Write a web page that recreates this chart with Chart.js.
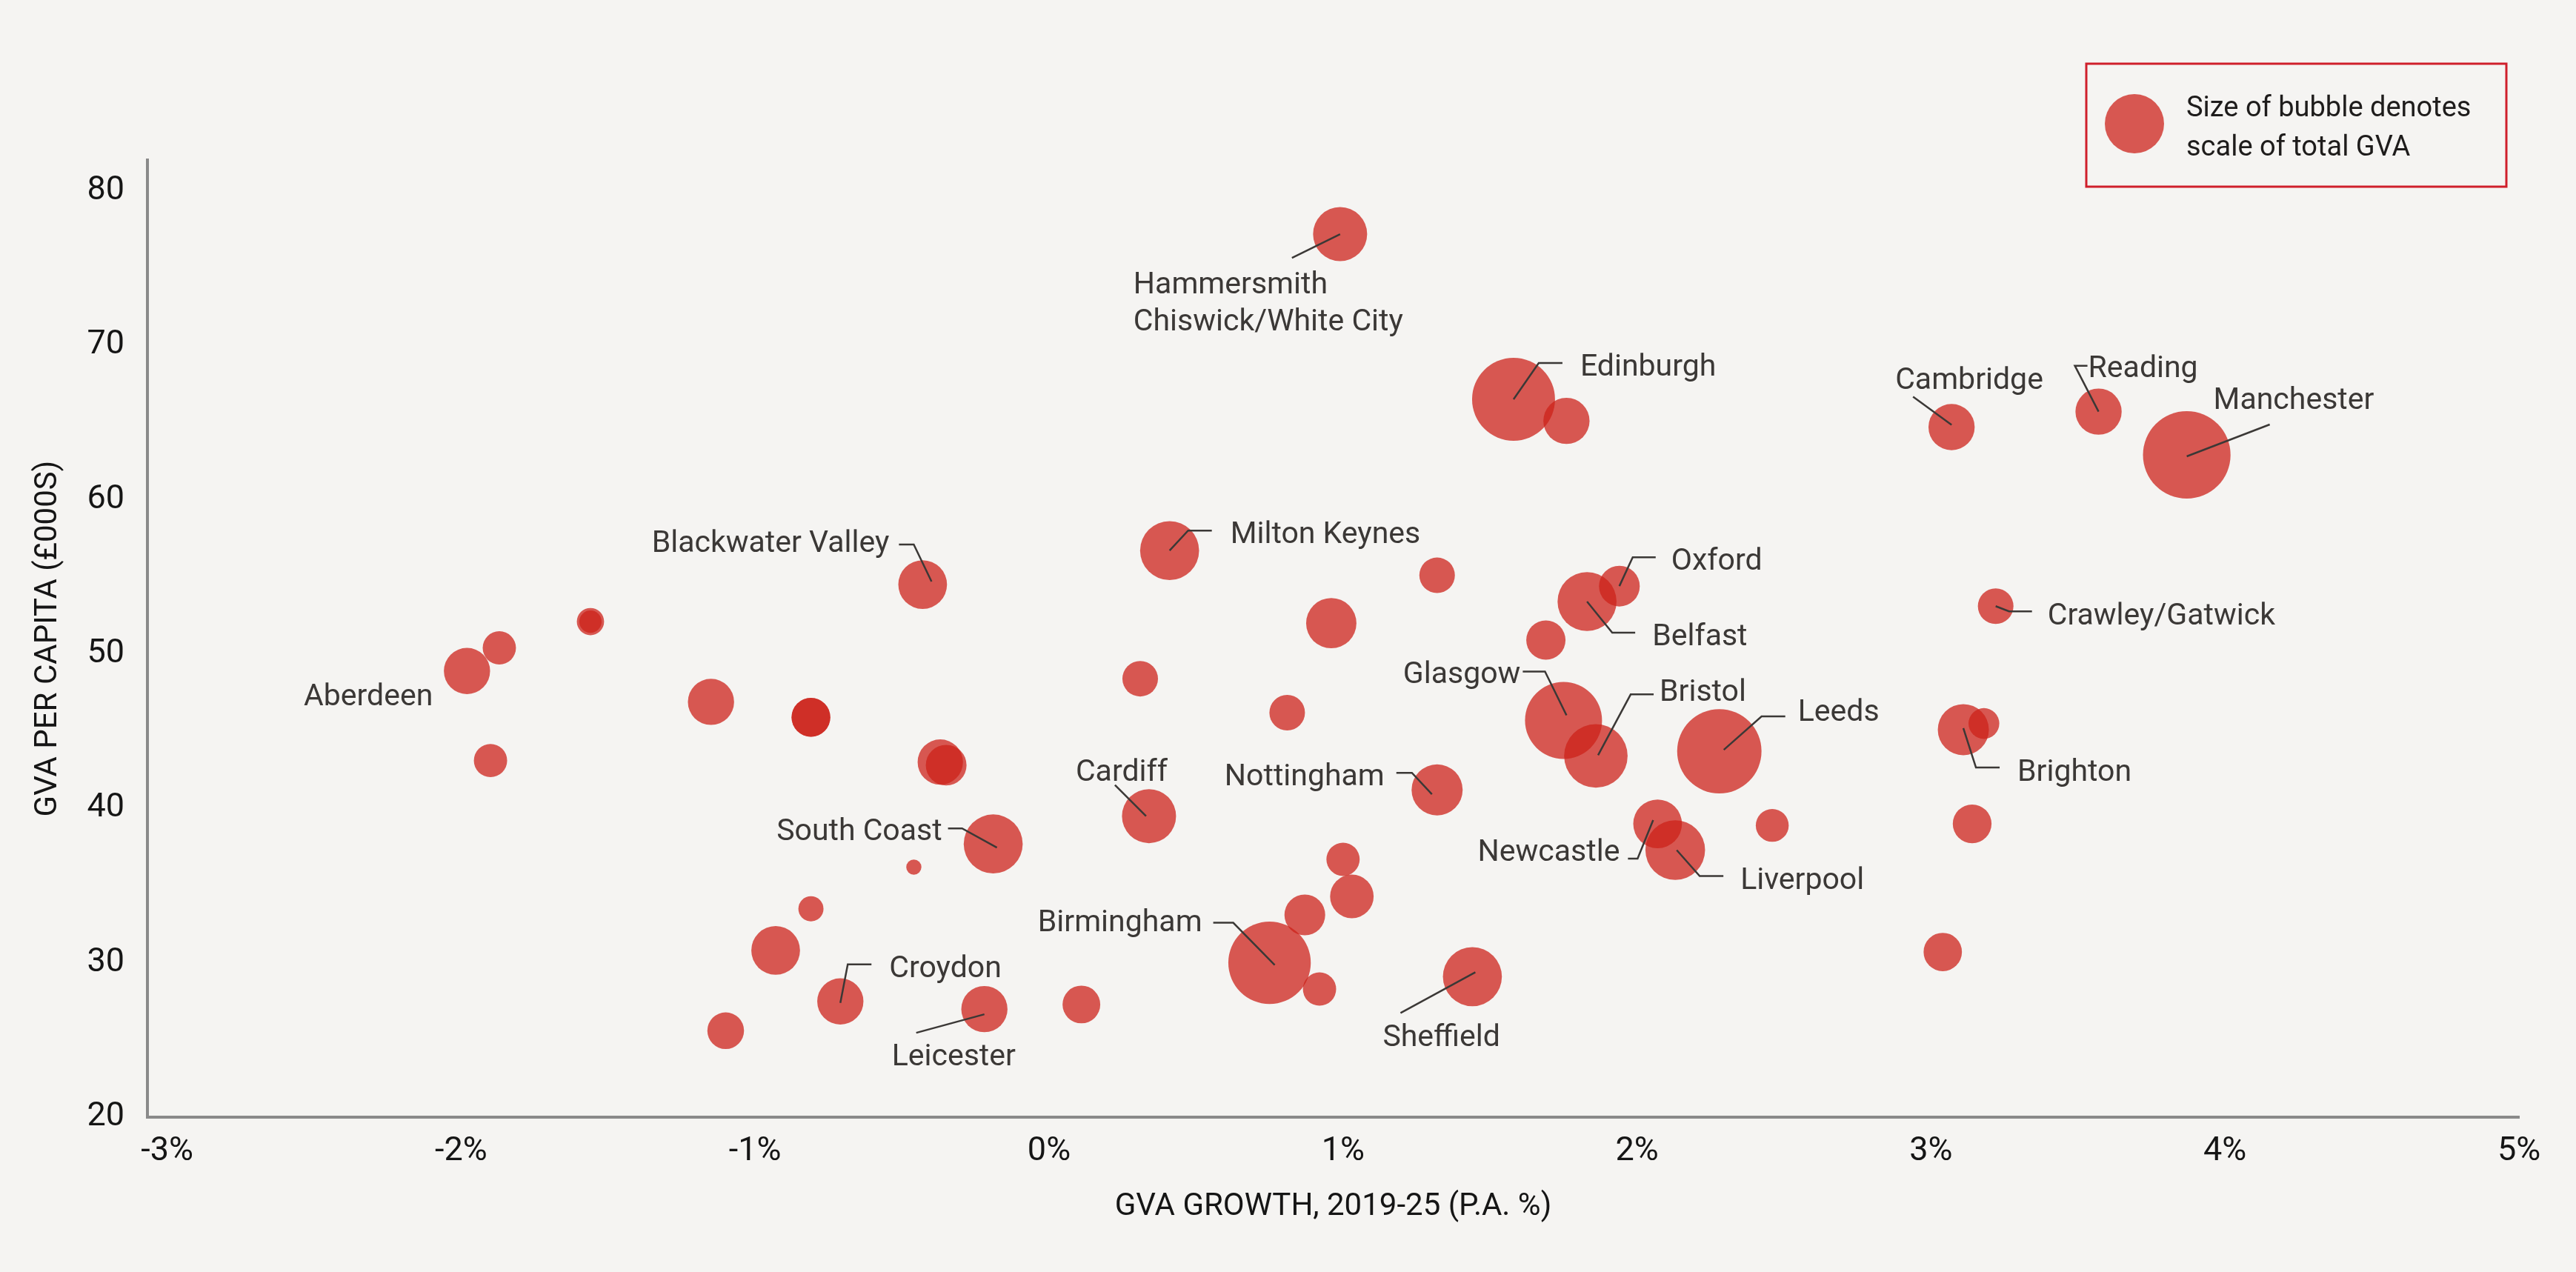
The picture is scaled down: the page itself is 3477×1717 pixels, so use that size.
<!DOCTYPE html>
<html>
<head>
<meta charset="utf-8">
<script src="https://cdn.jsdelivr.net/npm/chart.js@4.4.0/dist/chart.umd.min.js"></script>
<style>
  html, body { margin: 0; padding: 0; background: #f5f4f2; }
  #wrap { width: 3477px; height: 1717px; }
  canvas { display: block; }
</style>
</head>
<body>
<div id="wrap"><canvas id="myChart" width="3477" height="1717"></canvas></div>
<script>
// Районы (пустая строка - без подписи)
const places = ['Hammersmith', 'Edinburgh', '', 'Cambridge', 'Reading', 'Manchester', 'Milton Keynes',
    'Blackwater Valley', '', 'Oxford', 'Belfast', 'Crawley/Gatwick', '', '', '', '', '', 'Aberdeen', '', '',
    '', '', '', 'Glasgow', 'Bristol', 'Leeds', 'Brighton', '', '', '', '', 'Cardiff', 'Nottingham',
    'Newcastle', 'Liverpool', '', '', 'South Coast', '', '', '', '', '', 'Birmingham', '', '', 'Sheffield',
    'Croydon', 'Leicester', '', '', ''];

// Рост GVA, 2019-25 (% в год)
const gvaGrowth = [0.99, 1.58, 1.76, 3.07, 3.57, 3.87, 0.41,
    -0.43, 1.32, 1.94, 1.83, 3.22, 0.96, 1.69, -1.56, -1.56, -1.87, -1.98, 0.31, -1.15,
    -0.81, -0.81, 0.81, 1.75, 1.86, 2.28, 3.11, 3.18, -1.90, -0.37, -0.35, 0.34, 1.32,
    2.07, 2.13, 2.46, 3.14, -0.19, -0.46, 1.00, 1.03, -0.81, 0.87, 0.75, -0.93, 3.04, 1.44,
    -0.71, -0.22, 0.11, 0.92, -1.10];

// GVA на душу населения (тыс. фунтов)
const gvaPerCapita = [77.2, 66.5, 65.1, 64.7, 65.7, 62.9, 56.7,
    54.5, 55.1, 54.4, 53.4, 53.1, 52.0, 50.9, 52.1, 52.1, 50.4, 48.9, 48.4, 46.9,
    45.9, 45.9, 46.2, 45.7, 43.4, 43.7, 45.1, 45.5, 43.1, 43.0, 42.8, 39.5, 41.2,
    39.0, 37.3, 38.9, 39.0, 37.7, 36.2, 36.7, 34.3, 33.5, 33.1, 30.0, 30.8, 30.7, 29.1,
    27.5, 27.0, 27.3, 28.3, 25.6];

// Общий GVA (млрд фунтов) - размер пузыря
const totalGva = [37, 87, 27, 27, 27, 97, 44,
    30, 16, 21, 44, 16, 32, 19.5, 9.4, 6.3, 14, 27, 16, 27,
    19, 19, 16, 75, 51, 90, 33, 12, 14, 26, 21, 37, 33,
    30, 45, 13.7, 19, 44, 2.9, 14, 24, 8, 21, 86, 30, 18.6, 44,
    27, 27, 18, 14, 17];

const xTicks = [-3, -2, -1, 0, 1, 2, 3, 4, 5];
const xTickLabels = ['-3%', '-2%', '-1%', '0%', '1%', '2%', '3%', '4%', '5%'];
const yTicks = [20, 30, 40, 50, 60, 70, 80];
const yTickLabels = ['20', '30', '40', '50', '60', '70', '80'];

// Подписи: линия-выноска и текст, смещения в пикселях от центра пузыря
const callouts = [
    { name: 'Hammersmith', text: ['Hammersmith', 'Chiswick/White City'], line: [[0, 0], [-65, 32]], at: [-279, 80] },
    { name: 'Edinburgh', line: [[0, 0], [34, -49], [66, -49]], at: [90, -32] },
    { name: 'Milton Keynes', line: [[0, 0], [25, -27], [57, -27]], at: [82, -10] },
    { name: 'Oxford', line: [[0, 0], [18, -39], [49, -39]], at: [70, -22] },
    { name: 'Belfast', line: [[0, 0], [34, 42], [65, 42]], at: [88, 59] },
    { name: 'Glasgow', line: [[4, -7], [-25, -66], [-55, -66]], at: [-58, -50], align: 'right' },
    { name: 'Bristol', line: [[3, -1], [47, -83], [78, -83]], at: [86, -74] },
    { name: 'Leeds', line: [[6, -2], [57, -47], [89, -47]], at: [106, -41] },
    { name: 'Nottingham', line: [[-7, 6], [-34, -23], [-55, -23]], at: [-71, -6], align: 'right' },
    { name: 'Cardiff', line: [[-4, 0], [-46, -42]], at: [-99, -48] },
    { name: 'South Coast', line: [[5, 5], [-42, -21], [-61, -21]], at: [-69, -5], align: 'right' },
    { name: 'Newcastle', line: [[-6, -5], [-27, 47], [-40, 47]], at: [-51, 50], align: 'right' },
    { name: 'Liverpool', line: [[2, 0], [33, 35], [65, 35]], at: [88, 53] },
    { name: 'Brighton', line: [[0, -2], [17, 51], [49, 51]], at: [73, 69] },
    { name: 'Birmingham', line: [[7, 3], [-49, -54], [-76, -54]], at: [-91, -43], align: 'right' },
    { name: 'Sheffield', line: [[4, -6], [-97, 49]], at: [-121, 94] },
    { name: 'Croydon', line: [[0, 2], [10, -50], [42, -50]], at: [66, -33] },
    { name: 'Leicester', line: [[0, 7], [-92, 32]], at: [-125, 76] },
    { name: 'Blackwater Valley', line: [[12, -4], [-12, -54], [-32, -54]], at: [-45, -44], align: 'right' },
    { name: 'Aberdeen', at: [-46, 46], align: 'right' },
    { name: 'Cambridge', line: [[0, -3], [-52, -41]], at: [-76, -52] },
    { name: 'Reading', line: [[0, 0], [-32, -62], [-15, -62]], at: [-14, -47] },
    { name: 'Manchester', line: [[0, 2], [112, -41]], at: [36, -62] },
    { name: 'Crawley/Gatwick', line: [[0, 0], [18, 7], [49, 7]], at: [70, 25] }
];

const bubbleColor = 'rgba(204, 32, 24, 0.74)';
const inkColor = '#3b3836';
const labelFont = '41px Roboto';

// Радиус пузыря пропорционален корню из общего GVA
function bubbleRadius(v) {
    return 6 * Math.sqrt(v);
}

const points = places.map((p, i) => ({ x: gvaGrowth[i], y: gvaPerCapita[i], r: bubbleRadius(totalGva[i]) }));

const calloutPlugin = {
    id: 'callouts',
    afterDatasetsDraw(chart) {
        const ctx = chart.ctx;
        const meta = chart.getDatasetMeta(0);
        ctx.save();
        ctx.strokeStyle = inkColor;
        ctx.fillStyle = inkColor;
        ctx.lineWidth = 2.5;
        ctx.font = labelFont;
        ctx.textBaseline = 'alphabetic';
        callouts.forEach(c => {
            const el = meta.data[places.indexOf(c.name)];
            const cx = el.x, cy = el.y;
            if (c.line) {
                ctx.beginPath();
                c.line.forEach(([dx, dy], k) => {
                    if (k === 0) ctx.moveTo(cx + dx, cy + dy);
                    else ctx.lineTo(cx + dx, cy + dy);
                });
                ctx.stroke();
            }
            ctx.textAlign = c.align || 'left';
            const lines = c.text || [c.name];
            lines.forEach((t, k) => ctx.fillText(t, cx + c.at[0], cy + c.at[1] + k * 50));
        });
        ctx.restore();
    },
    afterDraw(chart) {
        // Легенда с пояснением размера пузыря
        const ctx = chart.ctx;
        ctx.save();
        ctx.strokeStyle = '#cf1f2b';
        ctx.lineWidth = 3;
        ctx.strokeRect(2816, 86, 567, 166);
        ctx.fillStyle = bubbleColor;
        ctx.beginPath();
        ctx.arc(2881, 167, 40, 0, Math.PI * 2);
        ctx.fill();
        ctx.fillStyle = '#1e1c1b';
        ctx.font = '38px Roboto';
        ctx.textAlign = 'left';
        ctx.textBaseline = 'alphabetic';
        ctx.fillText('Size of bubble denotes', 2951, 157);
        ctx.fillText('scale of total GVA', 2951, 210);
        ctx.restore();
    }
};

const ctx = document.getElementById('myChart').getContext('2d');

const myChart = new Chart(ctx, {
    type: 'bubble',
    data: {
        datasets: [{
            data: points,
            backgroundColor: bubbleColor,
            hoverBackgroundColor: bubbleColor,
            borderWidth: 0,
            hoverBorderWidth: 0
        }]
    },
    options: {
        responsive: false,
        devicePixelRatio: 1,
        animation: false,
        events: [],
        layout: { padding: { left: 0, right: 77, top: 216, bottom: 0 } },
        plugins: {
            legend: { display: false },
            tooltip: { enabled: false }
        },
        scales: {
            x: {
                type: 'linear',
                min: -3.067,
                max: 5,
                grid: { display: false, drawTicks: false },
                border: { display: true, color: '#8a8a8a', width: 4 },
                afterBuildTicks: s => { s.ticks = xTicks.map(v => ({ value: v })); },
                afterFit: s => { s.height = 209; },
                ticks: {
                    autoSkip: false,
                    maxRotation: 0,
                    padding: 20,
                    color: '#151515',
                    font: { family: 'Roboto', size: 45 },
                    callback: v => xTickLabels[xTicks.indexOf(v)]
                },
                title: {
                    display: true,
                    text: 'GVA GROWTH, 2019-25 (P.A. %)',
                    color: '#151515',
                    font: { family: 'Roboto', size: 42 },
                    padding: { top: 62, bottom: 62 }
                }
            },
            y: {
                type: 'linear',
                min: 20,
                max: 82,
                grid: { display: false, drawTicks: false },
                border: { display: true, color: '#8a8a8a', width: 4 },
                afterBuildTicks: s => { s.ticks = yTicks.map(v => ({ value: v })); },
                afterFit: s => { s.width = 199; },
                ticks: {
                    autoSkip: false,
                    padding: 31,
                    color: '#151515',
                    font: { family: 'Roboto', size: 45 },
                    callback: v => yTickLabels[yTicks.indexOf(v)]
                },
                title: {
                    display: true,
                    text: 'GVA PER CAPITA (£000S)',
                    color: '#151515',
                    font: { family: 'Roboto', size: 42 },
                    padding: { top: 40, bottom: 40 }
                }
            }
        }
    },
    plugins: [calloutPlugin]
});
</script>
</body>
</html>
